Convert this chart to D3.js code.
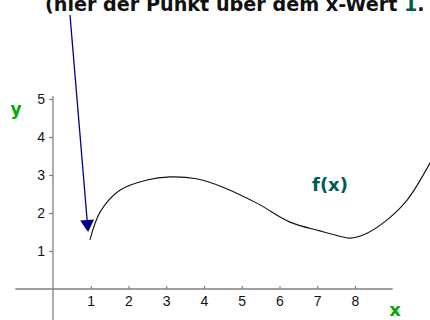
<!DOCTYPE html>
<html>
<head>
<meta charset="utf-8">
<script src="https://cdn.jsdelivr.net/npm/d3@7"></script>
<style>
  html, body { margin: 0; padding: 0; background: #fff; }
  svg { display: block; }
</style>
</head>
<body>
<script>
// Sample points of the curve f(x)
const xValues = [0.98, 1.25, 1.77, 2.49, 3.1, 3.8, 4.5, 5.4, 6.28, 7.07, 7.68, 7.87, 8.32, 8.85, 9.38, 10.0];
const yValues = [1.29, 2.03, 2.6, 2.87, 2.95, 2.9, 2.68, 2.26, 1.76, 1.53, 1.37, 1.34, 1.47, 1.82, 2.34, 3.34];
const xTicks = [1, 2, 3, 4, 5, 6, 7, 8];
const yTicks = [1, 2, 3, 4, 5];
const titleParts = ["(hier der Punkt über dem x-Wert ", "1", "."];
const curveLabel = "f(x)";
const xLabel = "x";
const yLabel = "y";

const W = 430, H = 320;
const svg = d3.select("body").append("svg").attr("width", W).attr("height", H);

const x = d3.scaleLinear().domain([0, 10]).range([53, 430.5]);
const y = d3.scaleLinear().domain([0, 5]).range([289, 99]);

const axisColor = "#808080";
const tickFont = "14px 'Liberation Sans', Arial, sans-serif";

// axis lines
svg.append("line")
  .attr("x1", x(-1)).attr("x2", x(9))
  .attr("y1", y(0)).attr("y2", y(0))
  .attr("stroke", axisColor).attr("stroke-width", 1.3);
svg.append("line")
  .attr("x1", x(0)).attr("x2", x(0))
  .attr("y1", y(5.08)).attr("y2", H)
  .attr("stroke", axisColor).attr("stroke-width", 1.3);

// x axis ticks (marks point upward)
const gx = svg.append("g").attr("transform", `translate(0,${y(0)})`)
  .call(d3.axisBottom(x).tickValues(xTicks).tickFormat(d3.format("d"))
    .tickSizeInner(-3).tickSizeOuter(0).tickPadding(7));
gx.select(".domain").remove();
gx.selectAll(".tick line").attr("stroke", axisColor).attr("stroke-width", 1.2);
gx.selectAll(".tick text").attr("fill", "#111").style("font", tickFont);

// y axis ticks
const gy = svg.append("g").attr("transform", `translate(${x(0)},0)`)
  .call(d3.axisLeft(y).tickValues(yTicks).tickFormat(d3.format("d"))
    .tickSizeInner(4).tickSizeOuter(0).tickPadding(4));
gy.select(".domain").remove();
gy.selectAll(".tick line").attr("stroke", axisColor).attr("stroke-width", 1.2);
gy.selectAll(".tick text").attr("fill", "#111").style("font", tickFont);

// the curve
const pts = xValues.map((v, i) => [v, yValues[i]]);
svg.append("path")
  .datum(pts)
  .attr("fill", "none")
  .attr("stroke", "#111")
  .attr("stroke-width", 1.1)
  .attr("d", d3.line().x(d => x(d[0])).y(d => y(d[1])).curve(d3.curveCatmullRom.alpha(0.5)));

// axis names
svg.append("text").attr("x", 16).attr("y", 115).attr("text-anchor", "middle")
  .attr("fill", "#00a800").style("font", "bold 17px 'DejaVu Sans', sans-serif").text(yLabel);
svg.append("text").attr("x", 395).attr("y", 316).attr("text-anchor", "middle")
  .attr("fill", "#00a800").style("font", "bold 18px 'DejaVu Sans', sans-serif").text(xLabel);

// curve name
svg.append("text").attr("x", 330).attr("y", 191).attr("text-anchor", "middle")
  .attr("fill", "#005a55").style("font", "bold 18px 'DejaVu Sans', sans-serif").text(curveLabel);

// heading (runs off the top edge), pieces laid out side by side
const titleColors = ["#111", "#005a55", "#111"];
const titleLeft = 45, titleWidth = 380;
let fontSize = 21;
const pieces = titleParts.map((t, i) => svg.append("text")
  .attr("y", 11).attr("fill", titleColors[i])
  .style("font-weight", "bold").style("font-family", "'DejaVu Sans', sans-serif")
  .style("font-size", fontSize + "px")
  .style("white-space", "pre")
  .text(t));
const total = d3.sum(pieces, p => p.node().getComputedTextLength());
fontSize = fontSize * titleWidth / total;
let cx = titleLeft;
pieces.forEach(p => {
  p.style("font-size", fontSize + "px").attr("x", cx);
  cx += p.node().getComputedTextLength();
});

// arrow pointing at the curve's starting point
const navy = "#000088";
const tip = [x(0.93), y(1.5)];
const start = [70, 15];
const ang = Math.atan2(tip[1] - start[1], tip[0] - start[0]);
const headLen = 12, headHalf = 7;
const base = [tip[0] - headLen * Math.cos(ang), tip[1] - headLen * Math.sin(ang)];
svg.append("line")
  .attr("x1", start[0]).attr("y1", start[1])
  .attr("x2", base[0]).attr("y2", base[1])
  .attr("stroke", navy).attr("stroke-width", 1.3);
svg.append("polygon")
  .attr("points", [
    tip,
    [base[0] + headHalf * Math.sin(ang), base[1] - headHalf * Math.cos(ang)],
    [base[0] - headHalf * Math.sin(ang), base[1] + headHalf * Math.cos(ang)]
  ].map(p => p.join(",")).join(" "))
  .attr("fill", navy);
</script>
</body>
</html>
